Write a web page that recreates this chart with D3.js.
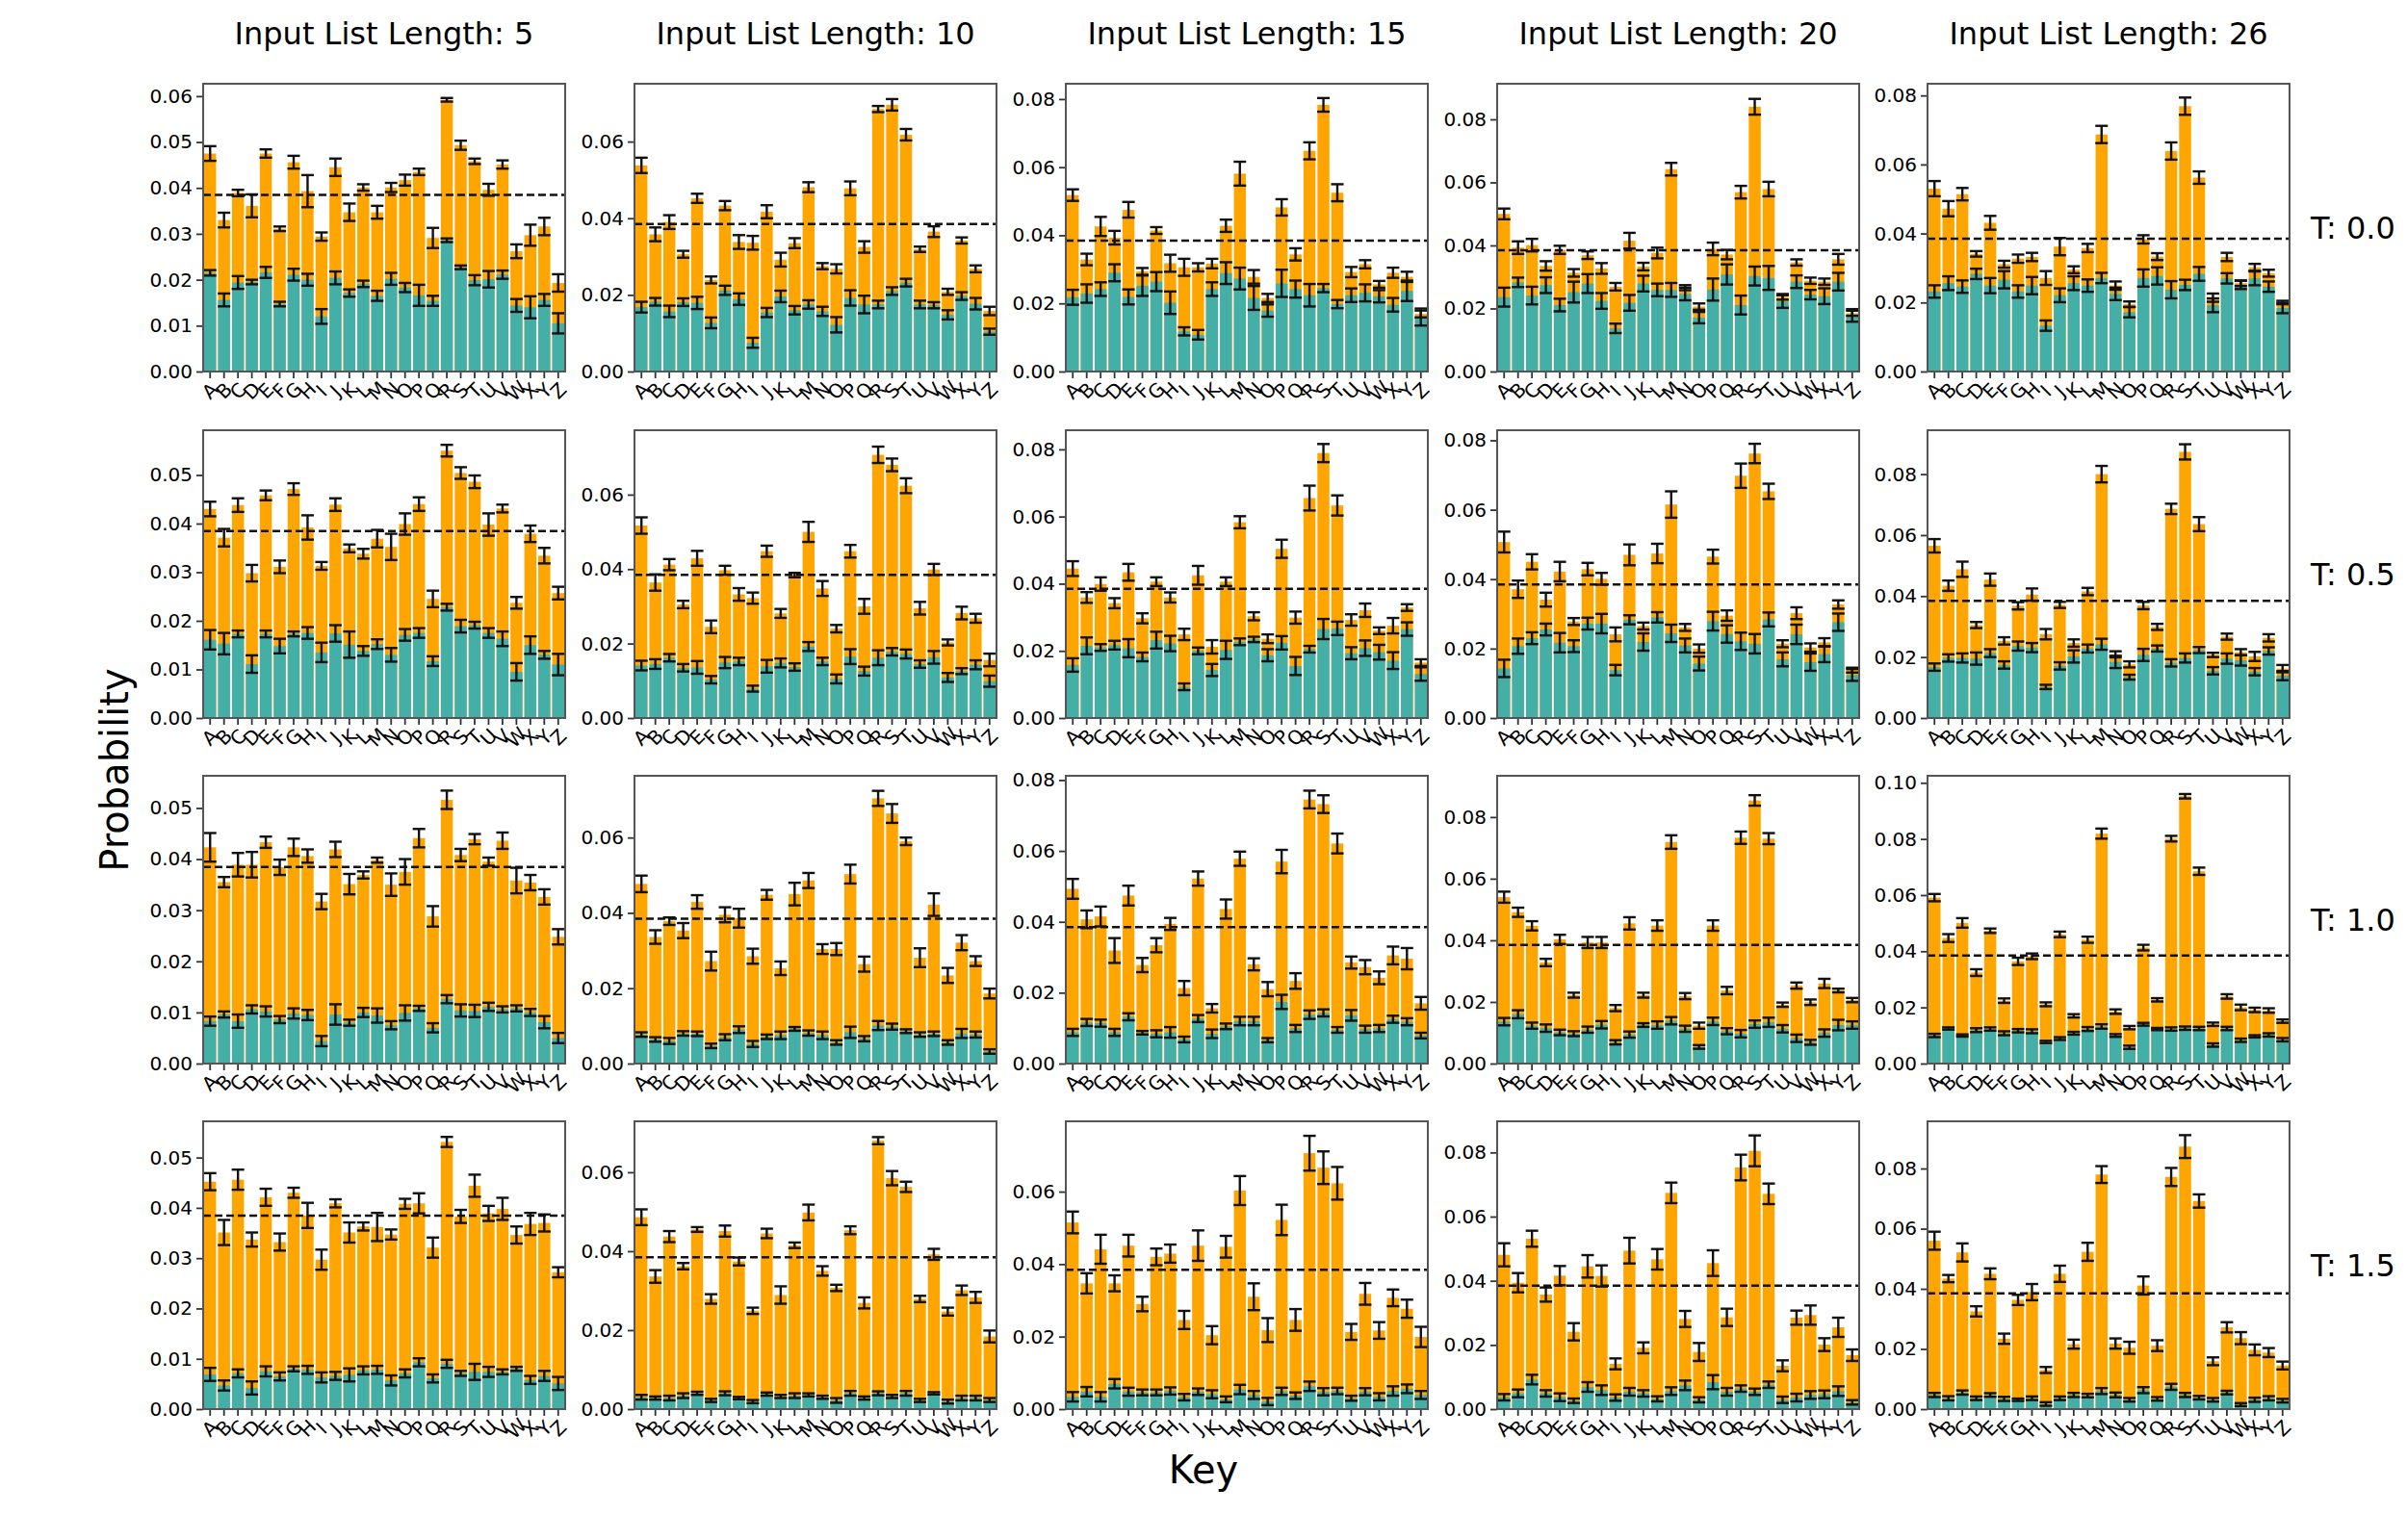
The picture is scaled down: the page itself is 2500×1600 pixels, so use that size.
<!DOCTYPE html>
<html>
<head>
<meta charset="utf-8">
<script src="https://cdn.jsdelivr.net/npm/d3@7"></script>
<style>
  body { margin: 0; background: #fff; }
  text { font-family: "DejaVu Sans", sans-serif; }
</style>
</head>
<body>
<div id="chart"></div>
<script>
const keys = 'ABCDEFGHIJKLMNOPQRSTUVWXYZ'.split('')
const listLengths = [5, 10, 15, 20, 26]
const temps = ['0.0', '0.5', '1.0', '1.5']
const uniform = 1 / 26
const UNIT = 1e-3 // all values below are probabilities x 1000

// orange bars (one row per list length), T = 0.0
const highT00 = [
  [47.5,33.0,38.9,36.1,47.5,31.1,45.6,39.3,29.4,44.5,34.7,40.1,34.7,40.1,41.7,43.5,29.1,59.2,49.3,45.8,39.6,45.1,26.2,29.7,31.6,19.3],
  [53.8,35.8,39.0,30.6,45.2,23.9,43.3,33.8,33.6,41.7,29.2,33.5,48.1,27.5,26.8,47.8,32.5,68.5,69.6,61.8,31.9,36.5,20.8,34.2,26.8,15.8],
  [51.8,32.9,42.6,39.3,47.5,29.4,41.4,31.8,30.6,30.6,31.7,42.8,58.1,27.8,21.6,48.2,34.4,64.8,78.3,52.5,29.2,31.5,25.6,29.0,27.8,16.9],
  [50.0,39.3,40.1,33.5,38.6,31.3,36.9,32.7,26.9,41.5,33.3,37.6,64.2,26.6,20.6,38.9,37.1,56.9,84.0,57.9,23.7,34.6,28.8,28.5,35.6,18.5],
  [53.0,47.2,51.4,34.1,43.1,31.1,32.7,33.2,27.1,36.2,29.5,35.8,68.7,24.9,19.5,38.3,33.3,63.9,76.9,56.2,21.4,33.2,25.6,30.2,28.5,20.0]
]
const highErrT00 = [
  [1.6,1.6,0.7,2.5,0.9,0.5,1.4,3.5,0.9,1.9,1.9,0.7,1.4,1.0,1.2,0.7,2.2,0.4,1.0,0.6,1.3,0.9,1.5,2.3,1.9,1.9],
  [2.0,1.8,1.8,0.9,1.2,0.9,1.2,1.8,1.8,1.7,1.8,1.3,1.3,0.8,1.2,1.8,1.5,0.8,1.5,1.5,0.7,1.4,0.8,0.8,0.9,1.1],
  [1.7,1.7,2.8,2.0,2.3,1.0,1.0,2.5,2.5,1.2,1.4,1.8,3.5,2.0,1.2,2.4,1.8,2.5,2.0,2.5,1.5,1.2,1.0,1.5,1.5,1.0],
  [1.7,2.0,2.0,1.5,1.3,1.2,1.2,1.7,1.2,2.5,1.2,1.7,2.0,0.8,1.0,2.0,1.5,2.0,2.5,2.3,0.9,1.0,1.0,1.0,1.7,0.8],
  [2.2,2.2,1.8,0.8,2.0,1.0,1.2,1.2,2.0,2.5,1.0,1.2,2.5,1.2,0.8,1.2,1.0,2.5,2.5,1.8,1.2,1.2,0.8,1.0,1.0,0.5]
]
// teal bars, T = 0.0
const lowT00 = [
  [21.5,15.6,19.4,19.5,21.6,14.7,21.1,20.0,12.0,20.4,17.1,19.1,16.5,20.2,18.3,16.6,15.4,28.6,22.7,19.9,20.1,21.1,14.4,14.0,15.6,10.5],
  [16.8,18.2,15.7,18.1,17.9,12.7,21.2,18.9,7.5,15.4,19.6,16.0,17.5,15.7,12.2,19.2,17.5,17.5,21.0,23.2,17.5,17.3,14.8,19.7,17.7,10.4],
  [21.8,22.9,24.2,29.0,21.9,25.2,26.4,20.2,11.8,10.8,24.2,28.9,27.3,21.6,17.9,25.9,24.2,22.4,24.5,19.8,22.4,23.1,22.1,19.6,23.7,16.0],
  [23.6,28.3,24.1,27.4,21.1,25.2,27.9,22.4,13.7,21.8,27.9,25.9,25.9,24.6,17.1,26.0,30.8,21.1,30.3,29.7,22.2,28.5,24.4,23.9,28.5,17.8],
  [23.2,25.6,24.6,28.3,24.9,26.6,23.2,24.9,13.3,22.1,25.6,24.9,27.1,22.5,17.2,27.1,27.7,23.7,25.1,28.3,19.2,27.0,25.1,27.0,24.6,18.4]
]
const lowErrT00 = [
  [0.6,1.4,1.4,0.5,1.2,0.5,1.3,1.3,1.6,1.4,0.8,0.7,1.1,1.3,1.0,2.3,1.1,0.4,0.4,1.1,1.8,0.9,1.4,2.4,1.3,2.2],
  [1.4,1.0,1.5,1.0,1.6,1.4,1.2,1.5,1.3,1.2,1.5,1.1,1.1,1.2,2.0,2.0,2.3,1.0,1.0,1.0,1.0,0.8,1.2,1.0,1.5,0.8],
  [2.2,2.7,2.0,2.5,2.2,3.0,2.8,3.3,1.2,1.4,2.0,3.2,3.2,3.5,1.8,4.0,2.5,3.3,1.2,1.2,2.0,2.5,1.8,2.0,3.0,2.5],
  [3.0,1.5,2.8,2.5,2.0,3.3,3.0,2.5,1.5,2.5,2.5,2.0,2.2,2.0,1.8,3.5,3.2,3.0,3.0,3.8,2.0,2.0,1.5,2.5,2.8,2.0],
  [1.8,2.0,1.8,1.5,2.2,2.5,1.8,2.5,1.5,2.0,2.0,1.8,1.5,1.8,1.5,2.5,2.5,2.5,1.5,2.0,2.0,1.5,1.2,2.0,1.5,1.5]
]

// T = 0.5
const highT05 = [
  [43.0,37.1,43.8,29.8,45.8,31.1,47.1,39.2,31.3,43.9,34.9,33.8,36.9,35.2,39.9,44.0,24.5,55.0,50.4,48.6,39.8,43.1,23.7,37.9,33.4,25.7],
  [51.7,36.4,41.2,30.5,42.9,24.5,39.7,33.2,32.2,44.8,28.1,38.4,50.0,34.8,24.0,44.8,30.0,70.7,68.0,62.4,29.5,39.9,20.3,28.2,26.8,15.6],
  [44.5,35.9,39.9,34.2,43.4,29.7,40.6,35.9,24.9,42.5,21.2,40.6,58.3,30.3,23.6,50.4,29.9,65.5,78.9,63.3,29.2,32.1,26.0,27.5,32.9,16.5],
  [50.7,37.1,45.0,34.1,42.2,27.8,42.9,40.1,24.1,47.0,26.5,47.4,61.5,26.1,20.0,46.5,29.5,69.8,76.2,65.3,21.4,30.2,20.3,21.8,32.7,13.8],
  [56.5,43.4,48.8,30.5,45.4,25.3,36.8,40.5,27.5,37.1,24.6,41.5,80.0,20.9,17.6,36.9,29.9,68.6,87.3,63.6,20.7,26.7,21.6,20.2,26.3,16.2]
]
const highErrT05 = [
  [1.5,1.8,1.4,1.7,1.0,1.3,1.2,2.5,0.8,1.3,0.8,1.0,1.8,2.7,2.2,1.4,1.7,1.2,1.2,1.3,2.3,0.8,1.2,1.7,1.6,1.3],
  [2.2,2.2,1.5,1.0,2.0,1.7,1.2,1.7,1.5,1.5,1.2,0.6,2.7,2.0,1.0,1.7,2.0,2.2,1.7,2.0,1.7,1.5,0.8,1.7,1.2,1.7],
  [2.2,1.6,2.0,1.5,2.5,1.5,1.3,1.5,1.7,2.8,2.0,1.3,1.8,1.2,1.3,2.7,1.8,3.7,2.7,3.0,1.7,2.0,1.0,2.3,1.0,1.0],
  [3.0,2.5,2.2,2.0,2.8,1.0,1.8,1.7,2.0,3.0,1.0,2.8,3.8,1.0,1.2,2.0,1.5,3.5,2.8,2.2,1.0,1.7,1.2,1.2,1.2,0.7],
  [2.2,1.7,2.5,1.0,2.0,1.2,1.2,2.0,1.7,1.0,1.2,1.2,2.7,1.0,1.0,1.2,1.0,1.7,2.5,2.3,0.7,1.0,1.0,1.5,1.2,1.2]
]
const lowT05 = [
  [16.1,15.3,17.3,11.1,17.3,14.8,17.3,17.5,13.5,17.4,15.1,13.8,15.2,13.0,17.1,17.5,11.7,22.8,18.9,19.1,17.5,16.3,9.5,15.0,13.0,11.0],
  [14.1,14.5,16.2,13.5,13.6,10.3,14.9,15.2,7.9,13.9,14.8,13.7,19.2,15.2,10.5,16.5,12.6,16.2,17.8,17.2,14.5,16.3,10.9,12.6,14.3,9.9],
  [15.8,21.5,21.0,21.7,20.8,18.2,23.2,22.2,9.3,20.0,14.3,20.3,22.7,23.4,18.7,22.4,15.5,20.5,26.5,26.7,19.3,20.8,19.6,17.1,26.5,13.1],
  [14.3,20.7,23.0,25.5,21.7,20.7,27.2,27.2,13.8,28.3,21.9,29.0,24.4,20.9,15.7,27.9,24.2,22.1,21.4,28.4,16.9,24.1,16.1,18.4,27.6,12.4],
  [16.7,19.7,19.7,19.5,21.3,17.4,23.6,23.1,10.2,17.1,20.2,22.8,24.2,18.4,13.4,20.7,22.8,18.1,19.7,22.3,15.5,19.5,18.9,15.2,22.0,13.9]
]
const lowErrT05 = [
  [2.0,2.2,0.7,1.8,0.7,1.5,0.5,1.2,2.0,1.7,2.7,1.0,1.0,1.4,1.2,1.0,1.0,0.7,1.3,0.7,1.0,1.5,1.8,1.8,0.8,2.2],
  [1.3,1.3,1.0,1.0,1.7,1.0,1.5,1.0,0.8,1.7,1.2,1.0,1.2,1.0,1.2,2.0,1.2,2.0,1.0,1.2,1.0,1.7,1.2,0.8,1.2,1.5],
  [2.0,2.5,1.0,1.3,2.7,1.3,2.5,2.3,1.0,1.0,1.8,2.7,1.0,0.8,1.8,2.0,2.7,1.0,3.0,2.0,1.8,2.3,2.2,2.5,2.0,2.0],
  [2.5,2.2,1.7,1.7,2.8,1.7,1.7,2.8,1.5,1.3,2.5,1.5,2.5,2.0,2.0,2.7,2.5,2.5,2.8,2.0,2.0,2.8,2.5,2.3,2.5,1.7],
  [1.2,1.2,1.5,2.0,1.3,1.2,1.5,1.5,0.7,1.2,2.0,1.3,1.8,2.0,0.8,2.0,1.0,1.2,1.5,1.0,1.2,1.7,1.7,1.2,1.2,1.5]
]

// T = 1.0
const highT10 = [
  [42.3,35.5,38.9,38.9,43.3,38.4,42.3,40.6,31.7,41.9,35.1,36.9,39.8,35.0,37.5,44.1,28.8,51.6,40.8,43.9,39.5,43.6,35.8,35.4,32.6,24.8],
  [47.7,33.6,37.8,35.3,42.9,27.2,39.5,38.6,28.5,44.8,25.3,45.0,48.6,30.4,30.4,50.3,26.4,70.4,66.4,59.0,28.1,42.2,23.4,32.1,27.2,18.6],
  [49.3,40.7,41.5,31.9,47.4,27.8,33.4,39.4,21.3,52.2,15.6,43.6,57.8,28.0,21.0,57.0,23.3,74.5,73.2,62.1,28.5,27.2,24.2,30.5,29.6,17.0],
  [54.0,49.1,44.7,32.8,40.3,22.2,39.3,39.3,18.0,45.5,22.2,44.8,71.9,21.9,12.3,44.8,23.7,73.3,85.4,73.0,19.1,25.3,19.9,26.0,23.7,20.6],
  [59.1,44.7,50.1,32.4,47.3,22.4,36.4,38.2,21.1,46.0,17.0,44.1,81.9,18.5,12.8,41.3,22.7,80.1,95.2,68.5,14.0,23.9,20.0,19.1,18.9,15.1]
]
const highErrT10 = [
  [2.8,1.0,2.3,2.5,1.1,1.5,1.7,1.3,1.5,1.5,2.0,0.7,0.5,2.2,2.5,1.8,2.0,1.8,1.2,1.0,0.8,1.6,2.5,1.5,1.5,1.5],
  [2.2,1.8,1.0,2.0,1.8,2.5,2.0,2.5,2.0,1.3,1.8,3.0,2.0,1.3,1.6,2.5,2.0,2.0,2.5,1.0,2.5,3.0,2.0,2.0,1.3,1.3],
  [2.8,2.5,2.8,3.5,2.8,2.0,2.0,1.7,2.0,2.0,1.2,2.7,2.0,1.7,2.0,3.3,2.2,2.5,2.5,2.8,1.7,2.0,1.8,2.5,3.0,1.8],
  [1.8,1.5,1.5,1.2,1.5,0.8,1.8,1.8,1.0,2.0,0.8,1.7,2.2,1.0,1.0,1.7,1.2,2.0,1.7,1.8,0.7,1.0,0.9,1.5,0.6,0.7],
  [1.3,1.4,1.7,1.2,0.8,0.8,1.3,1.0,0.7,1.0,0.6,1.1,1.8,0.8,0.6,1.0,0.6,1.0,0.8,1.3,0.6,0.8,1.0,0.8,0.8,0.6]
]
const lowT10 = [
  [8.3,9.6,8.3,10.6,10.2,8.6,9.8,9.5,4.4,9.6,8.0,10.0,9.4,7.5,9.9,10.8,7.0,12.6,10.4,10.3,11.1,10.6,10.8,10.0,8.1,5.0],
  [7.7,6.4,6.0,8.0,7.9,4.7,7.0,9.0,5.2,7.1,7.5,9.2,8.1,7.5,5.6,8.3,6.6,10.1,9.8,8.6,7.7,7.9,5.6,8.0,7.7,3.2],
  [8.8,11.6,11.4,8.8,13.2,8.7,8.4,8.8,6.8,12.7,8.4,10.5,12.0,12.0,6.6,17.4,9.9,13.8,14.3,9.5,13.6,9.7,9.9,12.5,11.8,7.9],
  [13.6,16.0,12.3,11.5,10.1,9.7,11.0,12.6,6.9,9.4,12.5,12.5,13.9,11.3,5.4,13.7,10.5,9.7,12.8,13.4,11.3,8.2,6.9,9.9,12.5,12.5],
  [10.0,12.5,10.0,11.9,12.3,10.8,11.7,11.5,7.7,8.9,10.8,12.3,13.2,10.0,5.8,14.0,12.3,12.3,12.6,12.5,6.6,12.5,8.3,9.7,10.2,8.5]
]
const lowErrT10 = [
  [0.9,0.6,1.3,0.8,1.0,0.7,1.0,1.0,1.0,2.0,0.6,0.9,1.4,0.8,1.5,0.5,0.9,0.8,1.2,1.2,0.8,0.6,0.6,0.7,1.2,1.0],
  [0.6,0.6,0.8,0.6,0.6,0.6,0.8,0.9,0.8,0.6,1.0,0.5,0.7,1.0,0.6,1.5,0.7,1.2,0.8,0.5,0.6,0.6,0.6,1.2,0.8,0.6],
  [1.0,1.0,1.0,1.0,1.0,0.5,1.0,1.5,0.8,1.0,1.2,0.8,1.2,1.2,0.6,2.0,1.0,1.2,1.0,0.8,1.5,1.0,1.0,1.0,1.0,0.8],
  [1.2,1.3,1.0,1.2,0.9,0.8,1.0,1.2,0.7,1.0,0.6,1.2,1.2,1.0,0.6,1.2,1.0,1.2,1.2,1.5,1.2,1.2,0.8,1.2,1.7,1.2],
  [0.6,0.4,0.4,0.7,0.6,0.7,0.6,0.7,0.4,0.5,0.5,0.7,0.8,0.5,0.6,0.5,0.4,0.6,0.6,0.6,0.6,0.6,0.6,0.4,0.6,0.6]
]

// T = 1.5
const highT15 = [
  [45.2,35.1,45.6,33.7,42.1,33.2,43.0,38.5,29.7,40.9,35.1,36.3,36.2,34.7,40.8,40.9,32.1,53.1,38.3,44.4,38.9,39.8,34.6,36.8,37.0,27.2],
  [48.6,33.6,43.7,36.2,45.5,27.9,45.1,37.4,24.9,44.5,28.9,41.5,49.8,35.0,30.7,45.3,26.9,68.0,58.5,56.3,27.9,39.2,24.7,30.1,28.3,18.4],
  [51.5,34.7,44.1,34.7,45.1,29.0,42.0,42.9,24.6,45.1,20.4,44.8,60.3,31.0,21.8,52.2,24.6,70.6,66.6,62.3,21.3,31.8,21.7,30.7,27.7,19.9],
  [48.1,39.4,53.1,35.7,41.6,24.1,44.5,41.5,14.1,49.4,19.1,46.7,67.4,28.1,17.8,45.5,28.6,75.3,80.5,67.1,13.5,28.5,29.3,20.1,25.5,16.8],
  [56.0,43.4,52.1,32.5,45.0,23.4,36.3,38.9,13.0,45.0,21.6,52.3,78.0,21.8,20.4,41.1,21.1,77.2,87.3,69.2,15.9,27.2,23.6,19.7,18.8,14.5]
]
const highErrT15 = [
  [1.7,2.5,2.0,1.4,1.7,1.7,1.0,2.5,2.0,0.8,2.0,0.8,2.8,1.0,1.0,2.0,2.0,1.0,1.3,2.2,1.5,2.2,1.7,2.2,1.7,1.0],
  [2.0,1.6,1.4,0.8,0.6,1.2,1.4,1.0,0.8,1.2,2.2,0.7,2.0,1.2,0.8,1.0,1.4,0.9,1.8,1.3,0.8,1.4,1.0,1.2,1.4,1.5],
  [3.0,2.8,4.0,2.2,3.0,2.0,2.3,2.5,2.5,4.2,2.5,3.0,4.0,3.7,3.3,4.2,3.0,4.8,4.5,4.5,2.2,3.0,2.3,2.3,2.5,2.8],
  [3.6,3.0,2.5,2.2,3.0,2.7,3.5,3.3,1.7,4.0,1.7,3.2,3.2,2.5,2.8,4.0,2.7,4.0,4.8,3.2,1.7,2.2,3.0,2.0,3.0,1.8],
  [3.0,1.2,3.0,1.7,1.8,1.7,1.7,2.7,1.0,2.7,1.5,3.0,2.8,1.7,2.0,3.0,1.8,3.0,3.8,2.2,1.3,1.7,2.0,1.8,1.5,1.3]
]
const lowT15 = [
  [6.9,4.7,7.1,4.2,7.5,6.5,8.0,7.8,6.3,6.6,6.8,7.7,7.8,5.7,7.1,9.3,6.1,9.0,7.1,7.4,7.4,7.4,8.0,5.8,6.6,5.1],
  [3.0,2.8,2.8,3.4,4.0,2.2,4.0,2.8,1.9,3.8,3.2,3.4,3.6,3.0,2.2,4.0,2.8,4.0,3.2,4.0,2.2,4.0,1.9,2.8,2.8,2.3],
  [3.4,4.8,3.4,7.0,4.8,4.6,4.6,5.0,3.3,4.8,4.1,2.7,5.4,3.9,2.1,4.9,3.7,6.3,4.8,5.0,3.0,4.8,3.4,5.0,5.6,3.9],
  [3.7,4.9,9.2,4.9,3.7,2.6,6.9,5.9,3.6,5.4,4.9,3.2,5.6,7.4,2.9,8.4,5.4,6.4,5.4,7.6,2.9,3.6,4.4,4.6,5.6,2.1],
  [4.7,3.6,5.5,3.6,4.7,3.4,3.1,3.6,1.7,3.6,4.7,4.5,6.0,4.7,3.1,6.3,3.4,7.4,4.7,3.8,3.1,5.5,1.5,3.1,3.6,2.8]
]
const lowErrT15 = [
  [1.3,1.0,0.8,1.3,1.0,0.8,0.5,0.8,1.0,0.8,1.3,0.8,0.8,1.0,0.8,0.8,0.8,0.8,0.5,1.6,1.0,0.5,0.4,0.8,1.0,1.3],
  [0.6,0.4,0.6,0.6,0.4,0.4,0.5,0.3,0.4,0.4,0.4,0.6,0.4,0.4,0.6,0.6,0.4,0.5,0.4,0.6,0.4,0.3,0.5,0.6,0.6,0.5],
  [1.3,1.3,1.3,1.3,1.1,0.8,0.8,1.0,0.9,0.9,1.1,0.8,1.3,1.1,1.0,1.0,0.9,1.3,1.0,0.9,0.7,1.0,1.0,1.3,1.2,1.1],
  [1.0,1.2,1.5,1.0,1.2,0.7,1.5,1.5,1.0,1.2,1.0,0.8,1.2,1.5,0.8,2.2,1.2,1.0,1.0,1.0,1.0,1.2,1.2,1.2,1.5,0.7],
  [0.7,0.7,0.7,0.6,0.6,0.7,0.4,0.6,0.6,0.6,0.7,0.6,1.0,0.8,0.6,1.0,0.6,1.0,0.7,0.6,0.6,0.6,0.5,0.7,0.7,0.6]
]

// y-axis upper limits per panel (x1000), rows = temperature
const yTop = [
  [62.7, 75.1, 84.5, 91.3, 83.4],
  [59.2, 77.3, 85.7, 82.9, 94.4],
  [56.3, 76.4, 81.2, 93.4, 102.5],
  [57.2, 72.9, 79.4, 89.7, 95.7]
]

const high = [highT00, highT05, highT10, highT15]
const highErr = [highErrT00, highErrT05, highErrT10, highErrT15]
const low = [lowT00, lowT05, lowT10, lowT15]
const lowErr = [lowErrT00, lowErrT05, lowErrT10, lowErrT15]

const width = 2500
const height = 1600
const colLeft = [211, 659, 1107, 1555, 2002]
const rowTop = [87, 447, 806, 1165]
const pw = 376
const ph = 299
const orange = '#ffa500'
const teal = '#43afa7'

let svg = d3.select('#chart').append('svg')
  .attr('width', width)
  .attr('height', height)

svg.append('rect')
  .attr('width', width)
  .attr('height', height)
  .attr('fill', '#fff')

function drawBars(g, vals, color, x, y) {
  g.append('g')
    .selectAll('rect')
    .data(keys.map((k, i) => ({ k, v: vals[i] * UNIT })))
    .join('rect')
    .attr('x', (d) => x(d.k))
    .attr('width', x.bandwidth())
    .attr('y', (d) => y(d.v))
    .attr('height', (d) => ph - y(d.v))
    .attr('fill', color)
}

function drawErrors(g, vals, errs, x, y) {
  let cap = 6.5
  let eb = g.append('g')
    .attr('stroke', '#111')
    .attr('stroke-width', 2.4)
    .selectAll('g')
    .data(keys.map((k, i) => ({ k, lo: (vals[i] - errs[i]) * UNIT, hi: (vals[i] + errs[i]) * UNIT })))
    .join('g')
    .attr('transform', (d) => `translate(${x(d.k) + x.bandwidth() / 2},0)`)
  eb.append('line')
    .attr('y1', (d) => y(d.lo))
    .attr('y2', (d) => y(d.hi))
  eb.append('line')
    .attr('x1', -cap).attr('x2', cap)
    .attr('y1', (d) => y(d.hi)).attr('y2', (d) => y(d.hi))
  eb.append('line')
    .attr('x1', -cap).attr('x2', cap)
    .attr('y1', (d) => y(d.lo)).attr('y2', (d) => y(d.lo))
}

temps.forEach((t, r) => {
  listLengths.forEach((len, c) => {
    let g = svg.append('g')
      .attr('transform', `translate(${colLeft[c]},${rowTop[r]})`)

    let x = d3.scaleBand()
      .domain(keys)
      .range([0, pw])
      .paddingInner(0.14)
      .paddingOuter(0.07)
    let y = d3.scaleLinear()
      .domain([0, yTop[r][c] * UNIT])
      .range([ph, 0])

    drawBars(g, high[r][c], orange, x, y)
    drawBars(g, low[r][c], teal, x, y)

    g.append('line')
      .attr('x1', 0).attr('x2', pw)
      .attr('y1', y(uniform)).attr('y2', y(uniform))
      .attr('stroke', '#111')
      .attr('stroke-width', 2.5)
      .attr('stroke-dasharray', '8,4')

    drawErrors(g, high[r][c], highErr[r][c], x, y)
    drawErrors(g, low[r][c], lowErr[r][c], x, y)

    // y axis
    let step = c === 0 ? 0.01 : 0.02
    let ticks = d3.range(0, yTop[r][c] * UNIT + 1e-9, step)
    let ya = g.append('g')
      .call(d3.axisLeft(y).tickValues(ticks).tickFormat(d3.format('.2f')).tickSize(7).tickPadding(4))
      .attr('font-size', 20)
      .attr('font-family', '"DejaVu Sans", sans-serif')
    ya.select('.domain').remove()
    ya.selectAll('line').attr('stroke', '#333').attr('stroke-width', 1.8)
    ya.selectAll('text').attr('fill', '#000')

    // x axis
    let xa = g.append('g')
      .attr('transform', `translate(0,${ph})`)
      .call(d3.axisBottom(x).tickSize(7))
      .attr('font-size', 20)
      .attr('font-family', '"DejaVu Sans", sans-serif')
    xa.select('.domain').remove()
    xa.selectAll('line').attr('stroke', '#333').attr('stroke-width', 1.8)
    xa.selectAll('text')
      .attr('y', 0)
      .attr('dy', null)
      .attr('fill', '#000')
      .attr('text-anchor', 'middle')
      .attr('dominant-baseline', 'central')
      .attr('transform', 'translate(0,20) rotate(-45)')

    // frame
    g.append('rect')
      .attr('width', pw)
      .attr('height', ph)
      .attr('fill', 'none')
      .attr('stroke', '#555')
      .attr('stroke-width', 2)

    if (r === 0) {
      svg.append('text')
        .attr('x', colLeft[c] + pw / 2)
        .attr('y', 46)
        .attr('text-anchor', 'middle')
        .attr('font-size', 32)
        .text(`Input List Length: ${len}`)
    }
  })

  svg.append('text')
    .attr('x', 2400)
    .attr('y', rowTop[r] + ph / 2 + 11.5)
    .attr('font-size', 32)
    .text(`T: ${t}`)
})

svg.append('text')
  .attr('transform', 'translate(133,800) rotate(-90)')
  .attr('text-anchor', 'middle')
  .attr('font-size', 40)
  .text('Probability')

svg.append('text')
  .attr('x', 1250)
  .attr('y', 1541)
  .attr('text-anchor', 'middle')
  .attr('font-size', 40)
  .text('Key')
</script>
</body>
</html>
